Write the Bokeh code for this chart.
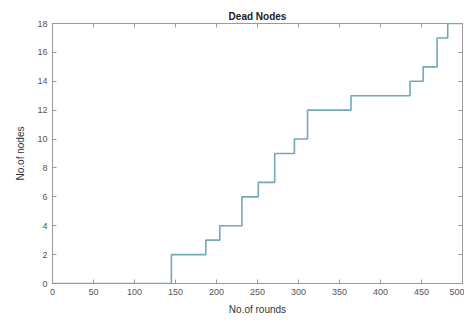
from bokeh.plotting import figure
from bokeh.models import LinearAxis, FixedTicker, Range1d
from bokeh.embed import file_html
from bokeh.resources import INLINE

# Data: round at which the dead-node count changes, and the count
rounds = [0, 145, 187, 204, 231, 251, 271, 295, 311, 364, 436, 452, 469, 482, 500]
dead_nodes = [0, 2, 3, 4, 6, 7, 9, 10, 12, 13, 14, 15, 17, 18, 18]
x_ticks = [0, 50, 100, 150, 200, 250, 300, 350, 400, 450, 500]
y_ticks = [0, 2, 4, 6, 8, 10, 12, 14, 16, 18]
title_text = "Dead Nodes"
x_label = "No.of rounds"
y_label = "No.of nodes"

FONT = "Liberation Sans"
AX = "#9a9a9a"
LBL = "#555555"

p = figure(width=464, height=320, output_backend="svg", toolbar_location=None,
           x_range=Range1d(0, 500), y_range=Range1d(0, 18),
           min_border_left=52, min_border_right=2, min_border_top=23, min_border_bottom=37,
           x_axis_label=x_label, y_axis_label=y_label)
p.title.text = title_text
p.title.align = "center"
p.title.text_font = FONT
p.title.text_font_size = "10px"
p.title.text_font_style = "bold"
p.title.text_color = "#222222"
p.title.standoff = 3

p.grid.visible = False
p.outline_line_color = AX
p.background_fill_color = "white"
p.border_fill_color = "white"

for ax in (p.xaxis[0], p.yaxis[0]):
    ax.axis_line_color = AX
    ax.major_tick_line_color = AX
    ax.major_tick_in = 4
    ax.major_tick_out = 0
    ax.minor_tick_line_color = None
    ax.major_label_text_font = FONT
    ax.major_label_text_font_size = "9px"
    ax.major_label_text_color = LBL
    ax.axis_label_text_font = FONT
    ax.axis_label_text_font_size = "10px"
    ax.axis_label_text_font_style = "normal"
    ax.axis_label_text_color = "#333333"

p.xaxis[0].ticker = FixedTicker(ticks=x_ticks)
p.yaxis[0].ticker = FixedTicker(ticks=y_ticks)
p.xaxis[0].major_label_standoff = 5
p.yaxis[0].major_label_standoff = 5
p.xaxis[0].axis_label_standoff = 6
p.yaxis[0].axis_label_standoff = 8

top = LinearAxis(ticker=FixedTicker(ticks=x_ticks), major_label_text_font_size="0px",
                 axis_line_color=AX, major_tick_line_color=AX, major_tick_in=4, major_tick_out=0,
                 minor_tick_line_color=None, major_label_standoff=0)
right = LinearAxis(ticker=FixedTicker(ticks=y_ticks), major_label_text_font_size="0px",
                   axis_line_color=AX, major_tick_line_color=AX, major_tick_in=4, major_tick_out=0,
                   minor_tick_line_color=None, major_label_standoff=0)
top.major_label_text_color = None
right.major_label_text_color = None
p.add_layout(top, "above")
p.add_layout(right, "right")

p.step(rounds, dead_nodes, mode="after", line_color="#74a8b6", line_width=1.6)

open("out.html", "w").write(file_html(p, INLINE))
